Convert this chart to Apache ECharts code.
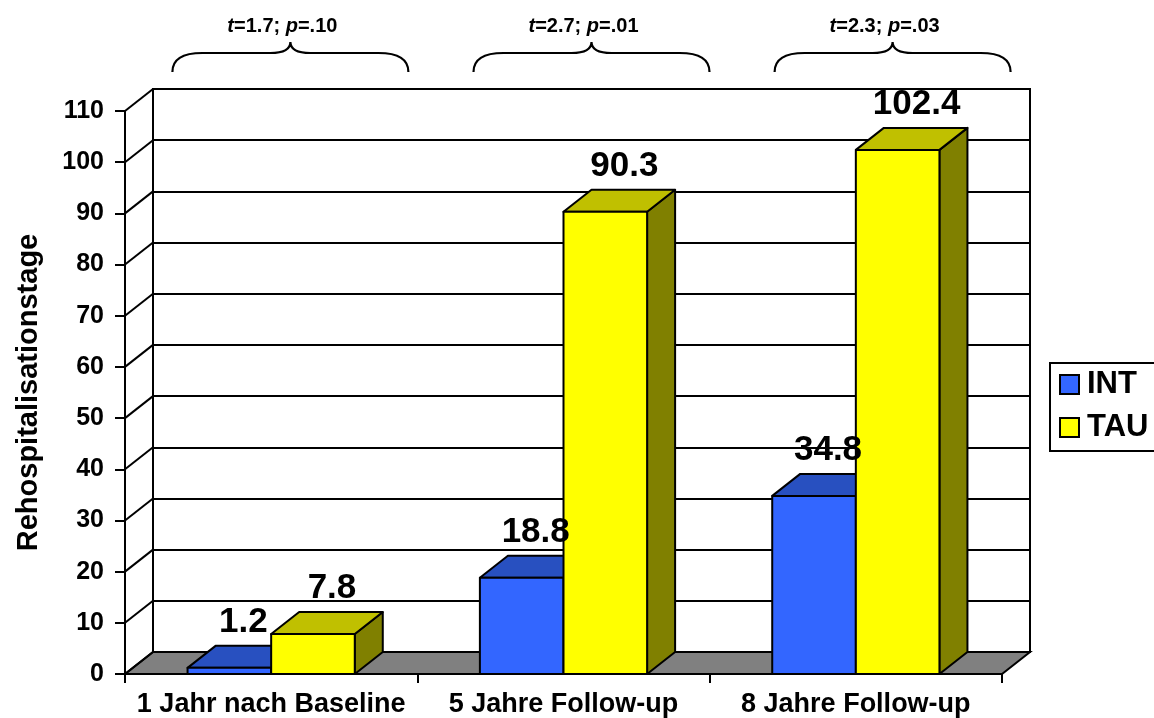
<!DOCTYPE html>
<html>
<head>
<meta charset="utf-8">
<script src="https://cdn.jsdelivr.net/npm/echarts@6/dist/echarts.min.js"></script>
<style>
html,body{margin:0;padding:0;background:#fff;}
#chart{width:1154px;height:718px;}
</style>
</head>
<body>
<div id="chart"></div>
<script>
// ---- data ----
const categories = ['1 Jahr nach Baseline', '5 Jahre Follow-up', '8 Jahre Follow-up'];
const seriesNames = ['INT', 'TAU'];
const intValues = [1.2, 18.8, 34.8];
const tauValues = [7.8, 90.3, 102.4];
const statT = ['1.7', '2.7', '2.3'];
const statP = ['.10', '.01', '.03'];
const yTickValues = [0, 10, 20, 30, 40, 50, 60, 70, 80, 90, 100, 110];
const yMin = 0, yMax = 110, yInterval = 10;

// ---- style ----
const FONT = '"Liberation Sans", Arial, Helvetica, sans-serif';
const DX = 28, DY = -22;
const BAR_FRAC = 0.286;
const styles = {
  INT: { front: '#3366FF', top: '#2850C0', side: '#1D3A94', offset: -1, lblShift: 0 },
  TAU: { front: '#FFFF00', top: '#C0C000', side: '#808000', offset: 0, lblShift: 5 }
};

const chart = echarts.init(document.getElementById('chart'), null, { renderer: 'canvas' });

function barRender(name) {
  const st = styles[name];
  return function (params, api) {
    const ci = api.value(0), v = api.value(1);
    const base = api.coord([ci, 0]);
    const top = api.coord([ci, v]);
    const band = api.size([1, 0])[0];
    const bw = band * BAR_FRAC;
    const x0 = base[0] + st.offset * bw, x1 = x0 + bw;
    const ty = top[1], by = base[1];
    const line = { stroke: '#000', lineWidth: 2, lineJoin: 'round' };
    return {
      type: 'group',
      children: [
        { type: 'polygon', shape: { points: [[x1, ty], [x1 + DX, ty + DY], [x1 + DX, by + DY], [x1, by]] },
          style: Object.assign({ fill: st.side }, line) },
        { type: 'polygon', shape: { points: [[x0, ty], [x1, ty], [x1 + DX, ty + DY], [x0 + DX, ty + DY]] },
          style: Object.assign({ fill: st.top }, line) },
        { type: 'rect', shape: { x: x0, y: ty, width: bw, height: by - ty },
          style: Object.assign({ fill: st.front }, line) },
        { type: 'text', z2: 100, x: (x0 + x1) / 2 + DX / 2 + st.lblShift, y: ty + DY - 6,
          style: { text: String(v), fill: '#000', font: 'bold 35px ' + FONT, align: 'center', verticalAlign: 'bottom' } }
      ]
    };
  };
}

function frameRender(params, api) {
  const cs = params.coordSys;
  const v = api.value(0);
  const p = api.coord([0, v]);
  const y = p[1];
  const L = cs.x, R = cs.x + cs.width;
  const children = [];
  if (v === yMin) {
    children.push({ type: 'polygon',
      shape: { points: [[L, y], [R, y], [R + DX, y + DY], [L + DX, y + DY]] },
      style: { fill: '#808080', stroke: '#000', lineWidth: 2 } });
  }
  children.push({ type: 'line', shape: { x1: L, y1: y, x2: L + DX, y2: y + DY },
    style: { stroke: '#000', lineWidth: 2 } });
  return { type: 'group', children: children };
}

function annotRender(params, api) {
  const cs = params.coordSys;
  const i = api.value(0);
  const c = api.coord([i, 0])[0];
  const midX = cs.x + cs.width / 2;
  const cx = c + DX + (c - midX) * 0.03;
  const half = 118;
  const L = cx - half, R = cx + half;
  const yEnd = cs.y - 39, yS = cs.y - 58, yTop = cs.y - 69;
  const path = 'M' + L + ',' + yEnd + ' Q' + L + ',' + yS + ' ' + (L + 30) + ',' + yS +
    ' L' + (cx - 20) + ',' + yS + ' Q' + cx + ',' + yS + ' ' + cx + ',' + yTop +
    ' Q' + cx + ',' + yS + ' ' + (cx + 20) + ',' + yS +
    ' L' + (R - 30) + ',' + yS + ' Q' + R + ',' + yS + ' ' + R + ',' + yEnd;
  return {
    type: 'group',
    children: [
      { type: 'path', shape: { pathData: path }, style: { fill: 'none', stroke: '#000', lineWidth: 2.2 } },
      { type: 'text', x: cx - 8, y: cs.y - 85,
        style: { text: '{i|t}=' + statT[i] + '; {i|p}=' + statP[i], fill: '#000',
          font: 'bold 20px ' + FONT, align: 'center', verticalAlign: 'middle',
          rich: { i: { fontStyle: 'italic', fontWeight: 'bold', fontSize: 20, fontFamily: FONT, fill: '#000' } } } }
    ]
  };
}

const axisLineStyle = { color: '#000', width: 2 };

const option = {
  animation: false,
  backgroundColor: '#fff',
  grid: [
    { left: 125, top: 111, width: 877, height: 563 },
    { left: 125 + DX, top: 111 + DY, width: 877, height: 563, show: true, borderColor: '#000', borderWidth: 2 }
  ],
  xAxis: [
    { gridIndex: 0, type: 'category', data: categories,
      axisLine: { show: true, lineStyle: axisLineStyle },
      axisTick: { show: true, interval: 0, length: 9, lineStyle: axisLineStyle },
      axisLabel: { interval: 0, color: '#000', fontFamily: FONT, fontWeight: 'bold', fontSize: 27, margin: 17 },
      splitLine: { show: false } },
    { gridIndex: 1, type: 'category', data: categories, show: false }
  ],
  yAxis: [
    { gridIndex: 0, type: 'value', min: yMin, max: yMax, interval: yInterval,
      name: 'Rehospitalisationstage', nameLocation: 'middle', nameRotate: 90, nameGap: 82,
      nameTextStyle: { color: '#000', fontFamily: FONT, fontWeight: 'bold', fontSize: 29 },
      axisLine: { show: true, lineStyle: axisLineStyle },
      axisTick: { show: true, length: 10, lineStyle: axisLineStyle },
      axisLabel: { color: '#000', fontFamily: FONT, fontWeight: 'bold', fontSize: 25, margin: 21 },
      splitLine: { show: false } },
    { gridIndex: 1, type: 'value', min: yMin, max: yMax, interval: yInterval,
      axisLine: { show: true, lineStyle: axisLineStyle },
      axisTick: { show: false }, axisLabel: { show: false },
      splitLine: { show: true, lineStyle: { color: '#000', width: 2 } } }
  ],
  legend: {
    orient: 'vertical', left: 1050, top: 363,
    padding: [6, 20, 8, 9], itemGap: 12, itemWidth: 19, itemHeight: 19,
    borderColor: '#000', borderWidth: 2, icon: 'rect',
    textStyle: { color: '#000', fontFamily: FONT, fontWeight: 'bold', fontSize: 31, padding: [0, 0, 0, 3] },
    data: [
      { name: seriesNames[0], itemStyle: { color: styles.INT.front, borderColor: '#000', borderWidth: 2 } },
      { name: seriesNames[1], itemStyle: { color: styles.TAU.front, borderColor: '#000', borderWidth: 2 } }
    ]
  },
  series: [
    { type: 'custom', name: 'frame', xAxisIndex: 0, yAxisIndex: 0, z: 1, silent: true,
      renderItem: frameRender, data: yTickValues.map(v => [v]), encode: { y: 0 } },
    { type: 'custom', name: seriesNames[0], xAxisIndex: 0, yAxisIndex: 0, z: 3,
      itemStyle: { color: styles.INT.front },
      renderItem: barRender('INT'), data: intValues.map((v, i) => [i, v]), encode: { x: 0, y: 1 } },
    { type: 'custom', name: seriesNames[1], xAxisIndex: 0, yAxisIndex: 0, z: 3,
      itemStyle: { color: styles.TAU.front },
      renderItem: barRender('TAU'), data: tauValues.map((v, i) => [i, v]), encode: { x: 0, y: 1 } },
    { type: 'custom', name: 'annot', xAxisIndex: 0, yAxisIndex: 0, z: 4, silent: true,
      renderItem: annotRender, data: categories.map((c, i) => [i, 0]), encode: { x: 0, y: 1 } }
  ]
};
chart.setOption(option);
</script>
</body>
</html>
